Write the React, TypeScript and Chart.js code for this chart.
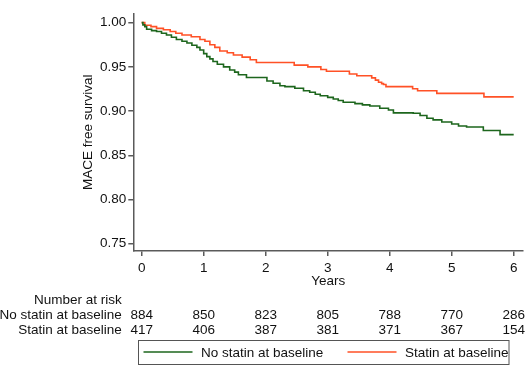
import React, { useEffect, useRef } from 'react';
import { Chart, registerables } from 'chart.js';

Chart.register(...registerables);

const FONT_FAMILY = '"Liberation Sans", Arial, Helvetica, sans-serif';
const FONT_SIZE = 13.5;
const TEXT_COLOR = '#111111';
const AXIS_COLOR = '#5a5a5a';
const GREEN = '#1d661d';
const ORANGE = '#ff5126';

const xTicks = [0, 1, 2, 3, 4, 5, 6];
const yTicks = [0.75, 0.8, 0.85, 0.9, 0.95, 1.0];

const seriesLabels = ['No statin at baseline', 'Statin at baseline'];

const noStatinTimes = [0, 0.02, 0.05, 0.08, 0.16, 0.24, 0.32, 0.4, 0.48, 0.56, 0.65, 0.73, 0.81, 0.89, 0.94, 1.0, 1.05, 1.1, 1.15, 1.22, 1.32, 1.42, 1.5, 1.56, 1.69, 2.02, 2.12, 2.23, 2.31, 2.47, 2.61, 2.71, 2.8, 2.88, 3.0, 3.09, 3.17, 3.25, 3.44, 3.56, 3.68, 3.84, 3.98, 4.06, 4.38, 4.49, 4.6, 4.7, 4.84, 5.0, 5.11, 5.24, 5.51, 5.78, 6.0];
const noStatinSurv = [1.0, 0.9975, 0.9955, 0.9925, 0.991, 0.99, 0.988, 0.986, 0.9835, 0.981, 0.979, 0.977, 0.9745, 0.972, 0.969, 0.965, 0.9616, 0.959, 0.956, 0.953, 0.95, 0.9465, 0.944, 0.941, 0.938, 0.934, 0.9314, 0.9287, 0.9276, 0.9258, 0.923, 0.9213, 0.919, 0.9174, 0.9155, 0.9137, 0.912, 0.91, 0.9084, 0.907, 0.9058, 0.9032, 0.9012, 0.898, 0.8975, 0.895, 0.8918, 0.89, 0.8877, 0.8854, 0.8831, 0.882, 0.878, 0.8733, 0.8733];

const statinTimes = [0, 0.05, 0.15, 0.24, 0.35, 0.46, 0.55, 0.65, 0.8, 0.94, 1.02, 1.1, 1.18, 1.26, 1.38, 1.48, 1.62, 1.75, 1.85, 2.46, 2.68, 2.89, 2.98, 3.35, 3.47, 3.71, 3.77, 3.82, 3.87, 3.9, 3.94, 4.37, 4.45, 4.76, 5.52, 6.0];
const statinSurv = [1.0, 0.997, 0.9955, 0.9935, 0.992, 0.99, 0.988, 0.986, 0.984, 0.981, 0.979, 0.975, 0.972, 0.968, 0.966, 0.9635, 0.961, 0.958, 0.955, 0.952, 0.95, 0.947, 0.945, 0.942, 0.94, 0.9375, 0.935, 0.9326, 0.931, 0.93, 0.9276, 0.9253, 0.923, 0.92, 0.916, 0.916];

const riskTitle = 'Number at risk';
const riskNoStatin = [884, 850, 823, 805, 788, 770, 286];
const riskStatin = [417, 406, 387, 381, 371, 367, 154];

const font = { family: FONT_FAMILY, size: FONT_SIZE };

const riskAndLegendPlugin = {
  id: 'riskAndLegend',
  afterDraw(chart: any) {
    const ctx = chart.ctx as CanvasRenderingContext2D;
    const xs = chart.scales.x;
    ctx.save();
    ctx.font = `${FONT_SIZE}px ${FONT_FAMILY}`;
    ctx.fillStyle = TEXT_COLOR;
    ctx.textBaseline = 'alphabetic';
    // risk table labels
    ctx.textAlign = 'right';
    const labelRight = 121.7;
    ctx.fillText(riskTitle, labelRight, 303.5);
    ctx.fillText(seriesLabels[0], labelRight, 318.5);
    ctx.fillText(seriesLabels[1], labelRight, 333.5);
    ctx.textAlign = 'center';
    xTicks.forEach((t, i) => {
      const px = xs.getPixelForValue(t);
      ctx.fillText(String(riskNoStatin[i]), px, 318.5);
      ctx.fillText(String(riskStatin[i]), px, 333.5);
    });
    // legend box
    ctx.strokeStyle = '#555555';
    ctx.lineWidth = 1;
    ctx.strokeRect(138.5, 340.5, 370.5, 24);
    const ly = 352;
    ctx.lineWidth = 1.6;
    ctx.strokeStyle = GREEN;
    ctx.beginPath();
    ctx.moveTo(143.5, ly);
    ctx.lineTo(192.5, ly);
    ctx.stroke();
    ctx.strokeStyle = ORANGE;
    ctx.beginPath();
    ctx.moveTo(347.5, ly);
    ctx.lineTo(396.5, ly);
    ctx.stroke();
    ctx.textAlign = 'left';
    ctx.fillStyle = TEXT_COLOR;
    ctx.fillText(seriesLabels[0], 201, 357);
    ctx.fillText(seriesLabels[1], 405, 357);
    ctx.restore();
  },
};

export default function App() {
  const canvasRef = useRef<HTMLCanvasElement | null>(null);

  useEffect(() => {
    const canvas = canvasRef.current;
    if (!canvas) return;
    const chart = new Chart(canvas, {
      type: 'line',
      data: {
        datasets: [
          {
            label: seriesLabels[0],
            data: noStatinTimes.map((t, i) => ({ x: t, y: noStatinSurv[i] })),
            borderColor: GREEN,
            borderWidth: 1.6,
            pointRadius: 0,
            stepped: 'before',
            fill: false,
          },
          {
            label: seriesLabels[1],
            data: statinTimes.map((t, i) => ({ x: t, y: statinSurv[i] })),
            borderColor: ORANGE,
            borderWidth: 1.6,
            pointRadius: 0,
            stepped: 'before',
            fill: false,
          },
        ],
      },
      options: {
        animation: false,
        responsive: false,
        devicePixelRatio: 1,
        layout: { padding: { left: 80.4, top: 13.3, right: 2, bottom: 84 } },
        plugins: {
          legend: { display: false },
          tooltip: { enabled: false },
        },
        scales: {
          x: {
            type: 'linear',
            min: -0.135,
            max: 6.15,
            afterBuildTicks: (axis: any) => {
              axis.ticks = xTicks.map((v) => ({ value: v }));
            },
            afterFit: (scale: any) => {
              scale.height = 40;
            },
            grid: {
              drawOnChartArea: false,
              drawTicks: true,
              tickLength: 5,
              color: AXIS_COLOR,
              lineWidth: 1.5,
            },
            border: { display: true, color: AXIS_COLOR, width: 1.5 },
            ticks: {
              font,
              color: TEXT_COLOR,
              padding: 4,
              maxRotation: 0,
              autoSkip: false,
              callback: (v: any) => String(v),
            },
            title: {
              display: true,
              text: 'Years',
              font,
              color: TEXT_COLOR,
              padding: { top: 0, bottom: 1.6 },
            },
          },
          y: {
            type: 'linear',
            min: 0.7417,
            max: 1.0106,
            afterBuildTicks: (axis: any) => {
              axis.ticks = yTicks.map((v) => ({ value: v }));
            },
            afterFit: (scale: any) => {
              scale.width = 52.9;
            },
            grid: {
              drawOnChartArea: false,
              drawTicks: true,
              tickLength: 5,
              color: AXIS_COLOR,
              lineWidth: 1.5,
            },
            border: { display: true, color: AXIS_COLOR, width: 1.5 },
            ticks: {
              font,
              color: TEXT_COLOR,
              padding: 2,
              autoSkip: false,
              callback: (v: any) => Number(v).toFixed(2),
            },
            title: {
              display: true,
              text: 'MACE free survival',
              font,
              color: TEXT_COLOR,
              padding: { top: 0, bottom: 0 },
            },
          },
        },
      },
      plugins: [riskAndLegendPlugin],
    } as any);
    return () => chart.destroy();
  }, []);

  return (
    <div style={{ position: 'fixed', left: 0, top: 0, width: 525, height: 375, background: '#ffffff' }}>
      <canvas ref={canvasRef} width={525} height={375} style={{ width: 525, height: 375, display: 'block' }} />
    </div>
  );
}
